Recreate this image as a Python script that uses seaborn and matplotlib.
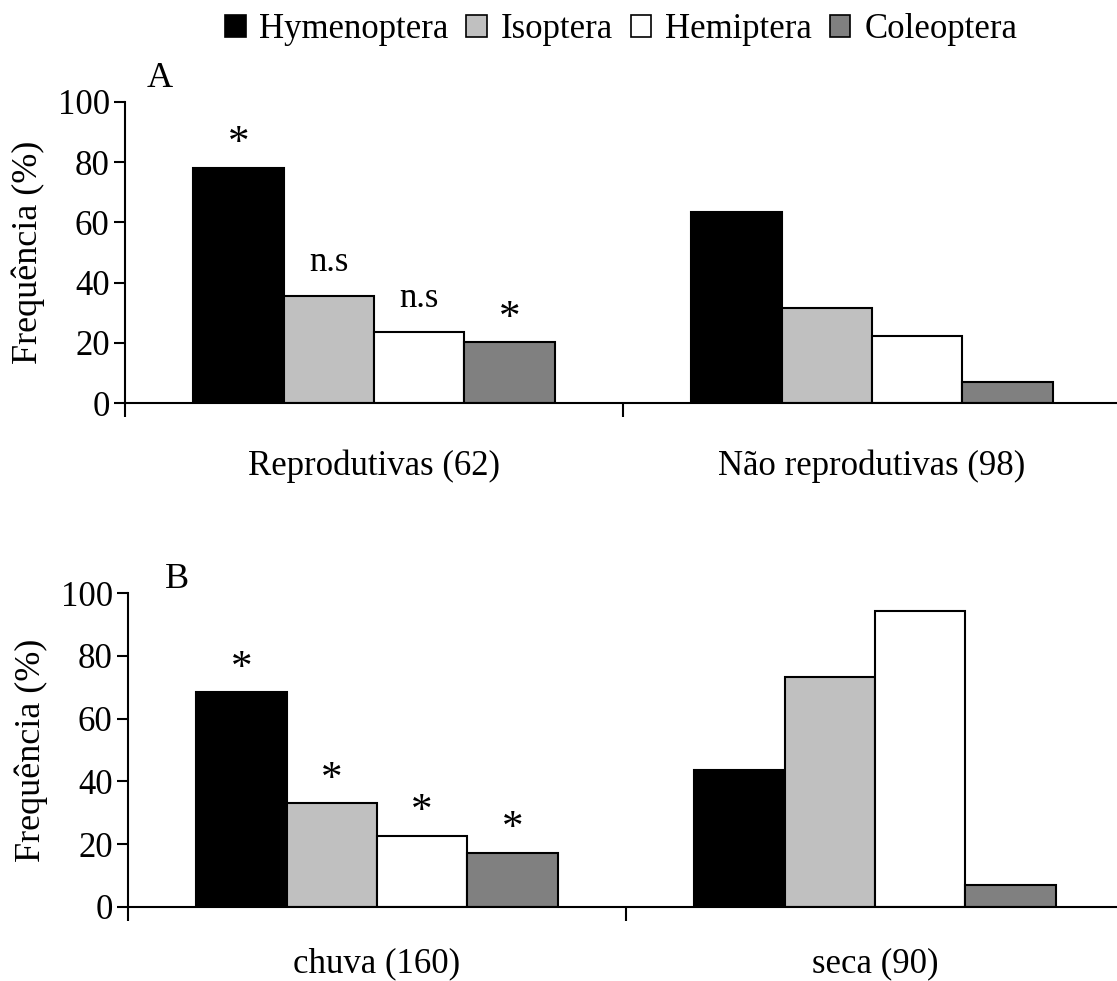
import matplotlib
matplotlib.use("Agg")
import matplotlib.pyplot as plt
from matplotlib.patches import Patch
from matplotlib.ticker import FixedLocator
import seaborn as sns
import pandas as pd

# Insect orders found in the diet, in plotting order
orders = ["Hymenoptera", "Isoptera", "Hemiptera", "Coleoptera"]
order_colors = ["#000000", "#c0c0c0", "#ffffff", "#808080"]

# Panel A: reproductive state
groups_a = ["Reprodutivas (62)", "Não reprodutivas (98)"]
freq_a_reprodutivas = [78.0, 35.5, 23.5, 20.2]
freq_a_nao_reprodutivas = [63.3, 31.7, 22.3, 7.0]
signif_a = ["*", "n.s", "n.s", "*"]

# Panel B: season
groups_b = ["chuva (160)", "seca (90)"]
freq_b_chuva = [68.4, 33.0, 22.7, 17.1]
freq_b_seca = [43.6, 73.2, 94.5, 6.8]
signif_b = ["*", "*", "*", "*"]

yticks = [0, 20, 40, 60, 80, 100]

sns.set_theme(style="white")
plt.rcParams["font.family"] = ["Liberation Serif", "DejaVu Serif"]
plt.rcParams["axes.linewidth"] = 1.5
for key in ("text.color", "axes.labelcolor", "xtick.color", "ytick.color",
            "axes.edgecolor"):
    plt.rcParams[key] = "black"

FS = 25


def long_table(groups, first, second):
    rows = []
    for g, vals in zip(groups, [first, second]):
        for o, v in zip(orders, vals):
            rows.append({"grupo": g, "ordem": o, "freq": v})
    return pd.DataFrame(rows)


def draw_panel(ax, groups, first, second, signif, xpad):
    df = long_table(groups, first, second)
    sns.barplot(data=df, x="grupo", y="freq", hue="ordem", order=groups,
                hue_order=orders, palette=order_colors, width=0.725, gap=0,
                edgecolor="black", linewidth=1.5, errorbar=None,
                legend=False, ax=ax)
    ax.set_ylim(0, 100)
    ax.set_xlim(-0.5, 1.5)
    ax.set_yticks(yticks)
    ax.set_xlabel("")
    ax.set_ylabel("Frequência (%)", fontsize=FS + 1)
    sns.despine(ax=ax)
    ax.tick_params(axis="y", direction="out", length=8, width=1.5,
                   labelsize=FS, pad=3, left=True)
    ax.tick_params(axis="x", which="major", length=0, labelsize=FS, pad=xpad)
    ax.xaxis.set_minor_locator(FixedLocator([-0.5, 0.5, 1.5]))
    ax.tick_params(axis="x", which="minor", direction="out", length=10,
                   width=1.5, bottom=True)
    # significance marks above the first group's bars
    for container, mark in zip(ax.containers, signif):
        bar = container.patches[0]
        x = bar.get_x() + bar.get_width() / 2
        if mark == "*":
            ax.annotate(mark, (x, bar.get_height()), xytext=(0, 24),
                        textcoords="offset pixels", ha="center", va="center",
                        fontsize=FS + 6)
        else:
            ax.annotate(mark, (x, bar.get_height()), xytext=(0, 34),
                        textcoords="offset pixels", ha="center", va="center",
                        fontsize=FS)


fig = plt.figure(figsize=(11.17, 9.81), dpi=100)
W, H = 1117, 981
ax_a = fig.add_axes([125 / W, 1 - 403.3 / H, 996 / W, 301.6 / H])
ax_b = fig.add_axes([128 / W, 1 - 906.7 / H, 996 / W, 313.4 / H])

draw_panel(ax_a, groups_a, freq_a_reprodutivas, freq_a_nao_reprodutivas,
           signif_a, xpad=33)
draw_panel(ax_b, groups_b, freq_b_chuva, freq_b_seca, signif_b, xpad=29)

for ax in (ax_a, ax_b):
    ax.yaxis.set_label_coords(-80 / 996, 0.5)

fig.text(147 / W, 1 - 87 / H, "A", fontsize=FS + 1, ha="left", va="baseline")
fig.text(165 / W, 1 - 588 / H, "B", fontsize=FS + 1, ha="left", va="baseline")

handles = [Patch(facecolor=c, edgecolor="black", linewidth=1.2, label=o)
           for o, c in zip(orders, order_colors)]
fig.legend(handles=handles, loc="upper center", ncol=4,
           bbox_to_anchor=(621 / W, 1.0 + 4 / H), frameon=False, fontsize=FS,
           handlelength=0.6, handleheight=0.6, handletextpad=0.4,
           columnspacing=0.5, borderaxespad=0.1)

fig.savefig("out.png", dpi=100, facecolor="white")
